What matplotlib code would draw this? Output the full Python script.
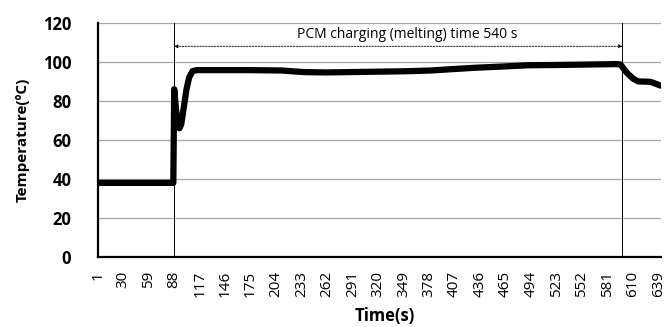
import matplotlib
matplotlib.use("Agg")
import matplotlib.pyplot as plt

time_s = [1, 87, 88, 90, 92, 94, 96, 99, 102, 105, 109, 114, 130, 170, 210, 235, 260, 290, 320, 350,
          380, 401, 430, 460, 492, 520, 550, 580, 592, 596, 603, 610, 616, 630, 642]
temp_c = [38, 38, 86, 76, 68, 66, 68, 77, 86, 92, 95.3, 95.8, 95.8, 95.8, 95.6, 94.8, 94.6, 94.8, 95.0, 95.2,
          95.6, 96.2, 97.0, 97.6, 98.3, 98.4, 98.6, 98.8, 98.9, 98.6, 94.5, 91.5, 90, 89.8, 87.8]
xticks = list(range(1, 640, 29))
yticks = [0, 20, 40, 60, 80, 100, 120]
marker_lines = [88, 598]
annot_text = "PCM charging (melting) time 540 s"

plt.rcParams['font.family'] = ['Open Sans', 'DejaVu Sans']
fig = plt.figure(figsize=(6.65, 3.27), dpi=100)
ax = fig.add_axes([0.147, 0.214, 0.847, 0.716])

for y in yticks[1:]:
    ax.axhline(y, color='#a6a6a6', lw=0.9, zorder=0)
for xv in marker_lines:
    ax.axvline(xv, color='black', lw=0.7, zorder=1)

ax.plot(time_s, temp_c, color='black', lw=4.5, solid_capstyle='round', solid_joinstyle='round', zorder=3)

ax.annotate('', xy=(marker_lines[0], 108), xytext=(marker_lines[1], 108),
            arrowprops=dict(arrowstyle='<|-|>', linestyle=(0, (2, 1.5)), lw=0.6, color='black',
                            mutation_scale=5, shrinkA=0, shrinkB=0))
ax.text(sum(marker_lines) / 2 + 10, 114, annot_text, ha='center', va='center', fontsize=10)

ax.set_xlim(1, 642)
ax.set_ylim(0, 120)
ax.set_xticks(xticks)
ax.set_xticklabels([str(t) for t in xticks], rotation=90, fontsize=11)
ax.set_yticks(yticks)
ax.set_yticklabels([str(t) for t in yticks], fontsize=12, fontweight='bold')
ax.tick_params(length=0)
ax.tick_params(axis='x', pad=10)
ax.tick_params(axis='y', pad=19)
for s in ['top', 'right']:
    ax.spines[s].set_visible(False)
for s in ['left', 'bottom']:
    ax.spines[s].set_linewidth(1.6)
ax.set_xlabel('Time(s)', fontsize=12, fontweight='bold', va='center')
ax.set_ylabel('Temperature(ºC)', fontsize=11, fontweight='bold', va='center')
ax.xaxis.set_label_coords((385 - 98) / 563, (257 - 316) / 234)
ax.yaxis.set_label_coords((23 - 98) / 563, 0.5)

fig.savefig('out.png', dpi=100)
